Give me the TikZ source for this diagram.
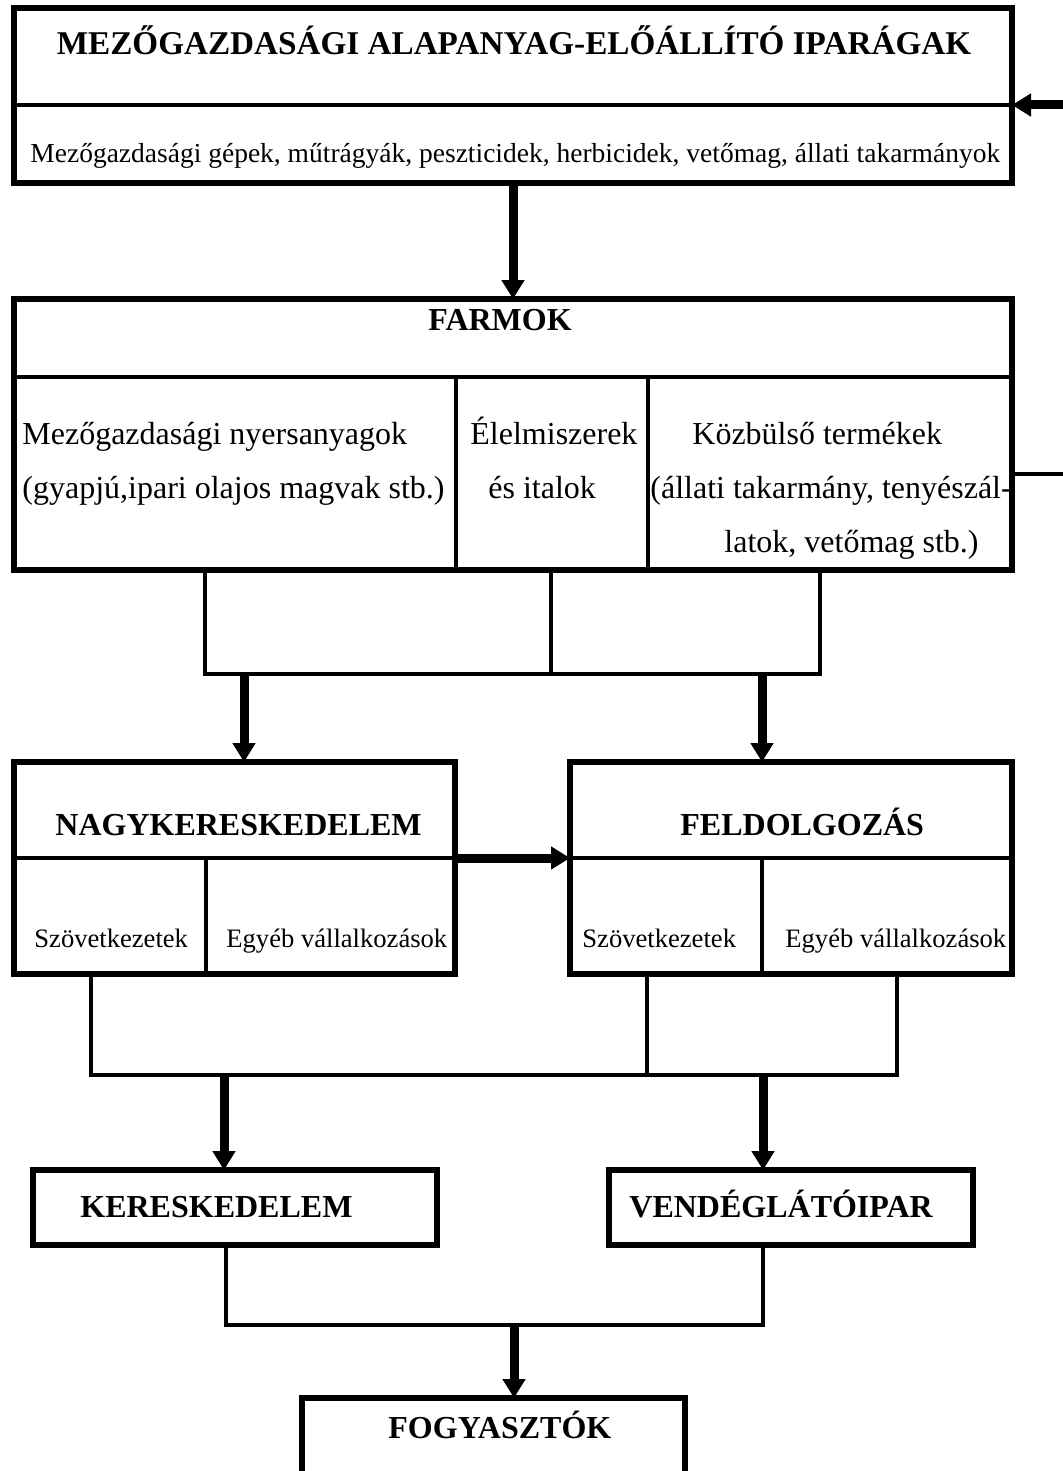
\documentclass[tikz,border=0pt]{standalone}
\usepackage{fontspec}
\setmainfont{Liberation Serif}
\usetikzlibrary{arrows.meta}
\newcommand{\headfont}{\fontsize{16pt}{19pt}\selectfont\bfseries}
\newcommand{\bighead}{\fontsize{16.6pt}{19pt}\selectfont\bfseries}
\newcommand{\cellfont}{\fontsize{16pt}{19pt}\selectfont}
\newcommand{\subfont}{\fontsize{13.3pt}{16pt}\selectfont}

\begin{document}
\begin{tikzpicture}[x=0.5pt,y=-0.5pt,>={Triangle[length=9.5pt,width=11pt]},line join=miter,
  box/.style={draw,line width=2.6pt,inner sep=0pt,outer sep=0pt,anchor=north west},
  rule/.style={line width=2.2pt},
  link/.style={line width=2pt},
  flow/.style={->,line width=4.5pt},
  lbl/.style={anchor=base west,inner sep=0pt},
  ctr/.style={anchor=base,inner sep=0pt}]
\useasboundingbox (0,0) rectangle (1063,1471);
% beszallitok
\node[box,minimum width=499pt,minimum height=87.5pt] (ipar) at (14,8) {};
\draw[rule] (14,105) -- (1012,105);
\node[ctr,font=\bighead] (iparcim) at (514,55) {MEZŐGAZDASÁGI ALAPANYAG-ELŐÁLLÍTÓ IPARÁGAK};
\node[lbl,font=\fontsize{13.75pt}{16pt}\selectfont] (iparlista) at (30,163) {Mezőgazdasági gépek, műtrágyák, peszticidek, herbicidek, vetőmag, állati takarmányok};
\coordinate (visszabe) at (1063,105);
\draw[flow] (visszabe) -- (visszabe -| ipar.east);
% farmok
\node[box,minimum width=499pt,minimum height=135.5pt] (farm) at (14,299) {};
\draw[rule] (14,377) -- (1012,377);
\draw[rule] (456,377) -- (456,570);
\draw[rule] (648,377) -- (648,570);
\node[ctr,font=\headfont] (farmcim) at (500,330) {FARMOK};
\node[lbl,font=\cellfont] (nyers1) at (22,444) {Mezőgazdasági nyersanyagok};
\node[lbl,font=\cellfont] (nyers2) at (22,498) {(gyapjú,ipari olajos magvak stb.)};
\node[lbl,font=\cellfont] (elel1) at (470,444) {Élelmiszerek};
\node[lbl,font=\cellfont] (elel2) at (488,498) {és italok};
\node[lbl,font=\cellfont] (kozb1) at (692,444) {Közbülső termékek};
\node[lbl,font=\cellfont] (kozb2) at (650,498) {(állati takarmány, tenyészál-};
\node[lbl,font=\cellfont] (kozb3) at (724,552) {latok, vetőmag stb.)};
\draw[flow] (ipar.south) -- (farm.north);
\coordinate (visszaki) at (1063,474);
\draw[link] (visszaki -| farm.east) -- (visszaki);
% elosztas a farmok alatt
\draw[link] (205,570) -- (205,674) -- (820,674) -- (820,570);
\draw[link] (551,570) -- (551,674);
\coordinate (gy1) at (244,674);
\coordinate (gy2) at (762,674);
% nagykereskedelem, feldolgozas
\node[box,minimum width=220.5pt,minimum height=106pt] (nagy) at (14,762) {};
\draw[rule] (14,858) -- (455,858);
\draw[rule] (206,858) -- (206,974);
\node[lbl,font=\headfont] (nagycim) at (55,835) {NAGYKERESKEDELEM};
\node[lbl,font=\subfont] (nagyszov) at (34,947) {Szövetkezetek};
\node[lbl,font=\subfont] (nagyegyeb) at (226,947) {Egyéb vállalkozások};
\node[box,minimum width=221pt,minimum height=106pt] (feld) at (570,762) {};
\draw[rule] (570,858) -- (1012,858);
\draw[rule] (762,858) -- (762,974);
\node[lbl,font=\headfont] (feldcim) at (680,835) {FELDOLGOZÁS};
\node[lbl,font=\subfont] (feldszov) at (582,947) {Szövetkezetek};
\node[lbl,font=\subfont] (feldegyeb) at (785,947) {Egyéb vállalkozások};
\draw[flow] (gy1) -- (gy1 |- nagy.north);
\draw[flow] (gy2) -- (gy2 |- feld.north);
\draw[flow] ([yshift=5pt]nagy.east) -- ([yshift=5pt]feld.west);
% elosztas lefele
\draw[link] (91,974) -- (91,1075) -- (897,1075) -- (897,974);
\draw[link] (647,974) -- (647,1075);
\coordinate (gy3) at (224,1075);
\coordinate (gy4) at (763,1075);
% kereskedelem, vendeglatas
\node[box,minimum width=202pt,minimum height=37.5pt] (ker) at (33,1170) {};
\node[lbl,font=\headfont] (kercim) at (80,1217) {KERESKEDELEM};
\node[box,minimum width=182pt,minimum height=37.5pt] (vend) at (609,1170) {};
\node[lbl,font=\headfont] (vendcim) at (629,1217) {VENDÉGLÁTÓIPAR};
\draw[flow] (gy3) -- (gy3 |- ker.north);
\draw[flow] (gy4) -- (gy4 |- vend.north);
\draw[link] (226,1245) -- (226,1325) -- (763,1325) -- (763,1245);
\coordinate (gy5) at (514,1325);
% fogyasztok
\node[box,minimum width=191.5pt,minimum height=50pt] (fogy) at (302,1398) {};
\node[lbl,font=\headfont] (fogycim) at (388,1438) {FOGYASZTÓK};
\draw[flow] (gy5) -- (gy5 |- fogy.north);
\end{tikzpicture}
\end{document}
